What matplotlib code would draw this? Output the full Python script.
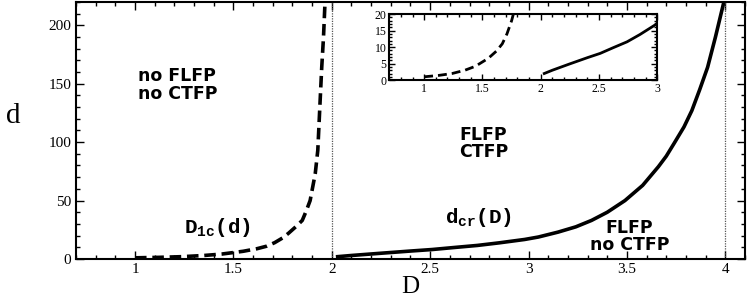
import matplotlib
matplotlib.use("Agg")
import matplotlib.pyplot as plt
from matplotlib.ticker import MultipleLocator

plt.rcParams['mathtext.fontset'] = 'custom'
plt.rcParams['mathtext.tt'] = 'Liberation Mono:bold'
plt.rcParams['mathtext.rm'] = 'Liberation Mono:bold'

# D_1c(d) curve (dashed)
D1c_D = [1.0, 1.12, 1.24, 1.35, 1.44, 1.55, 1.62, 1.67, 1.71, 1.75, 1.78, 1.82,
         1.85, 1.87, 1.89, 1.916, 1.929, 1.941, 1.949, 1.958, 1.966]
D1c_d = [1.0, 1.4, 2.0, 3.0, 4.2, 6.6, 8.8, 11.0, 14.0, 18.0, 22.0, 28.0,
         33.0, 41.0, 50.0, 73.0, 93.0, 136.0, 164.0, 190.0, 221.0]

# d_cr(D) curve (solid)
dcr_D = [2.03, 2.1, 2.24, 2.4, 2.51, 2.62, 2.74, 2.85, 2.98, 3.05, 3.15, 3.24, 3.32,
         3.4, 3.49, 3.58, 3.66, 3.70, 3.74, 3.79, 3.83, 3.87, 3.91, 3.95, 3.99]
dcr_d = [2.0, 3.0, 4.8, 6.8, 8.1, 9.8, 11.6, 13.8, 16.7, 18.8, 23.0, 27.5, 33.0,
         40.0, 50.0, 63.0, 79.0, 88.0, 99.0, 113.0, 127.0, 145.0, 164.0, 190.0, 218.0]

vlines_D = [2.0, 4.0]

main_xticks = [1, 1.5, 2, 2.5, 3, 3.5, 4]
main_xlabels = ['1', '1.5', '2', '2.5', '3', '3.5', '4']
main_yticks = [0, 50, 100, 150, 200]
inset_xticks = [1, 1.5, 2, 2.5, 3]
inset_xlabels = ['1', '1.5', '2', '2.5', '3']
inset_yticks = [0, 5, 10, 15, 20]

fig = plt.figure(figsize=(7.47, 3.0), dpi=100)
ax = fig.add_axes([0.1017, 0.1367, 0.8956, 0.857])

serif = 'Liberation Serif'

def style(a, xmaj, xmin, ymaj, ymin, fs, lmaj, lmin):
    a.xaxis.set_major_locator(MultipleLocator(xmaj))
    a.xaxis.set_minor_locator(MultipleLocator(xmin))
    a.yaxis.set_major_locator(MultipleLocator(ymaj))
    a.yaxis.set_minor_locator(MultipleLocator(ymin))
    a.tick_params(which='both', direction='in', top=True, right=True, width=1.0)
    a.tick_params(which='major', length=lmaj, labelsize=fs)
    a.tick_params(which='minor', length=lmin)
    for s in a.spines.values():
        s.set_linewidth(1.5)
    for lab in a.get_xticklabels() + a.get_yticklabels():
        lab.set_family(serif)

ax.plot(D1c_D, D1c_d, color='black', lw=2.6, linestyle=(0, (3.2, 1.6)))
ax.plot(dcr_D, dcr_d, color='black', lw=2.6)
for v in vlines_D:
    ax.axvline(v, color='#555555', lw=0.9, linestyle=(0, (1, 1)))
ax.set_xlim(0.7, 4.1)
ax.set_ylim(0, 220)
ax.set_xticks(main_xticks)
ax.set_xticklabels(main_xlabels)
ax.set_yticks(main_yticks)
style(ax, 0.5, 0.1, 50, 10, 11, 6, 3)
ax.tick_params(axis='x', pad=3)

ax.set_xlabel('D', family=serif, fontsize=18, va='bottom')
ax.xaxis.set_label_coords(0.5, -0.152)
ax.set_ylabel('d', family=serif, fontsize=21, rotation=0, ha='center', va='center')
ax.yaxis.set_label_coords(-0.094, 0.556)

tkw = dict(fontsize=12.5, fontweight='bold', family='DejaVu Sans', linespacing=0.95)
ax.text(1.015, 149, 'no FLFP\nno CTFP', ha='left', va='center', **tkw)
ax.text(2.77, 99, 'FLFP\nCTFP', ha='center', va='center', **tkw)
ax.text(3.514, 19, 'FLFP\nno CTFP', ha='center', va='center', **tkw)
ax.text(1.248, 22, r'$\mathtt{D_{1c}(d)}$', fontsize=15, ha='left', va='baseline')
ax.text(2.576, 31, r'$\mathtt{d_{cr}(D)}$', fontsize=15, ha='left', va='baseline')

ins = fig.add_axes([0.521, 0.733, 0.359, 0.22])
ins.plot(D1c_D, D1c_d, color='black', lw=2.0, linestyle=(0, (3.2, 1.8)))
ins.plot(dcr_D, dcr_d, color='black', lw=2.0)
ins.set_xlim(0.7, 3.0)
ins.set_ylim(0, 20)
ins.set_xticks(inset_xticks)
ins.set_xticklabels(inset_xlabels)
ins.set_yticks(inset_yticks)
style(ins, 0.5, 0.1, 5, 1, 8.5, 4, 2)
ins.tick_params(which='major', pad=2)

fig.savefig('out.png', dpi=100)
